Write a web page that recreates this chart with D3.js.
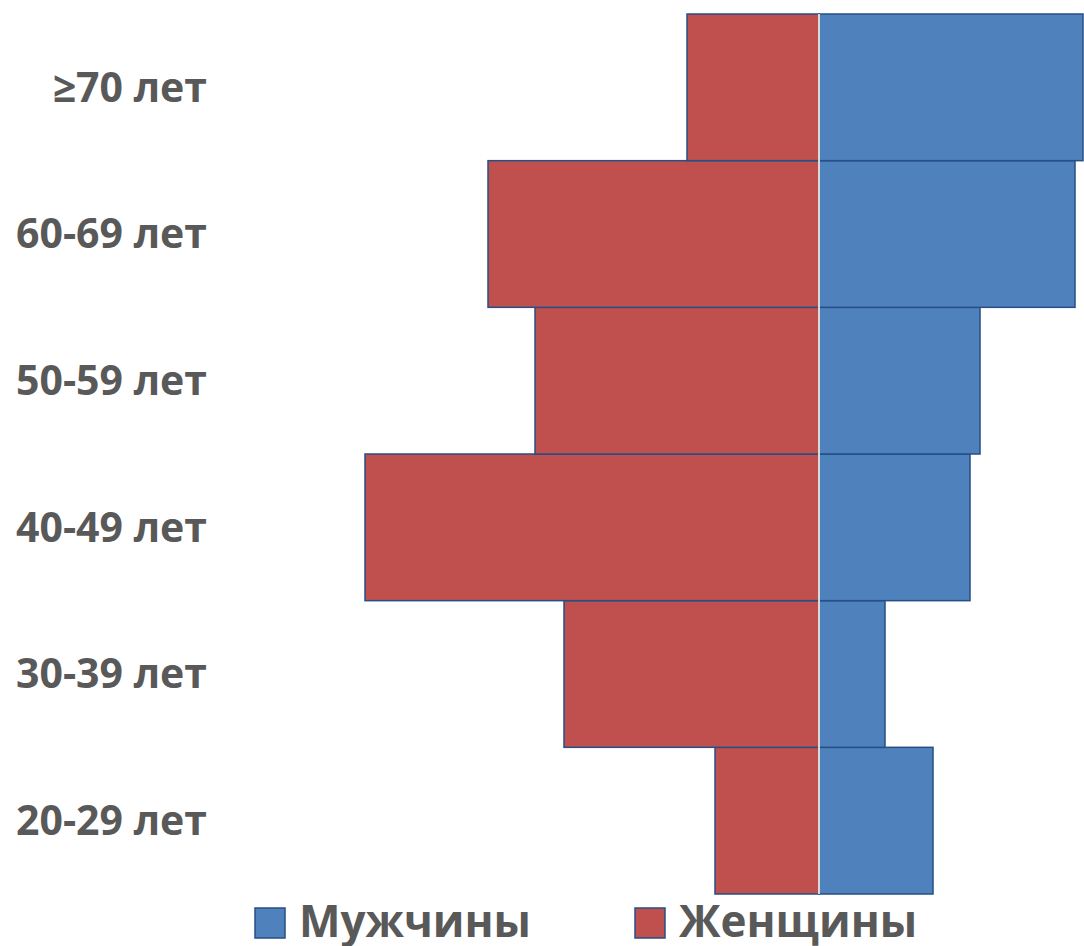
<!DOCTYPE html>
<html>
<head>
<meta charset="utf-8">
<script src="https://cdn.jsdelivr.net/npm/d3@7"></script>
<style>
  body { margin: 0; background: #fff; }
  text { font-family: "Open Sans", sans-serif; font-weight: bold; fill: #595959; }
</style>
</head>
<body>
<svg width="1084" height="946"></svg>
<script>
  // Age groups, bottom to top
  const ageGroups = ["20-29 лет", "30-39 лет", "40-49 лет", "50-59 лет", "60-69 лет", "≥70 лет"];
  const men = [11.4, 6.6, 15.1, 16.1, 25.6, 26.4];
  const women = [10.4, 25.5, 45.4, 28.4, 33.1, 13.2];
  const seriesNames = ["Мужчины", "Женщины"];
  const colors = ["#4f81bd", "#c0504d"];

  const svg = d3.select("svg"),
      width = +svg.attr("width"),
      height = +svg.attr("height");

  const x = d3.scaleLinear()
      .domain([-45.4, 26.4])
      .range([365, 1083]);

  const y = d3.scaleBand()
      .domain(ageGroups.slice().reverse())
      .range([14, 894])
      .padding(0);

  const rows = ageGroups.map((g, i) => ({ group: g, men: men[i], women: women[i] }));

  // women to the left
  svg.append("g")
      .selectAll("rect")
      .data(rows)
      .join("rect")
      .attr("x", d => x(-d.women))
      .attr("y", d => y(d.group))
      .attr("width", d => x(0) - x(-d.women))
      .attr("height", y.bandwidth())
      .attr("fill", colors[1])
      .attr("stroke", "#254f86")
      .attr("stroke-width", 1.5);

  // men to the right
  svg.append("g")
      .selectAll("rect")
      .data(rows)
      .join("rect")
      .attr("x", x(0))
      .attr("y", d => y(d.group))
      .attr("width", d => x(d.men) - x(0))
      .attr("height", y.bandwidth())
      .attr("fill", colors[0])
      .attr("stroke", "#254f86")
      .attr("stroke-width", 1.5);

  // center axis line
  svg.append("line")
      .attr("x1", x(0)).attr("x2", x(0))
      .attr("y1", 14).attr("y2", 894)
      .attr("stroke", "#d9d9d9")
      .attr("stroke-width", 2);

  // category labels
  svg.append("g")
      .selectAll("text")
      .data(ageGroups)
      .join("text")
      .attr("x", 207)
      .attr("y", d => y(d) + y.bandwidth() / 2)
      .attr("dy", "0.35em")
      .attr("text-anchor", "end")
      .style("font-size", "41px")
      .text(d => d);

  // legend
  const legendX = [255, 635];
  const legend = svg.append("g")
      .selectAll("g")
      .data(seriesNames)
      .join("g")
      .attr("transform", (d, i) => `translate(${legendX[i]},908)`);

  legend.append("rect")
      .attr("width", 30)
      .attr("height", 30)
      .attr("fill", (d, i) => colors[i])
      .attr("stroke", "#254f86")
      .attr("stroke-width", 1.5);

  legend.append("text")
      .attr("x", 44)
      .attr("y", 14)
      .attr("dy", "0.35em")
      .style("font-size", "44px")
      .text(d => d);
</script>
</body>
</html>
